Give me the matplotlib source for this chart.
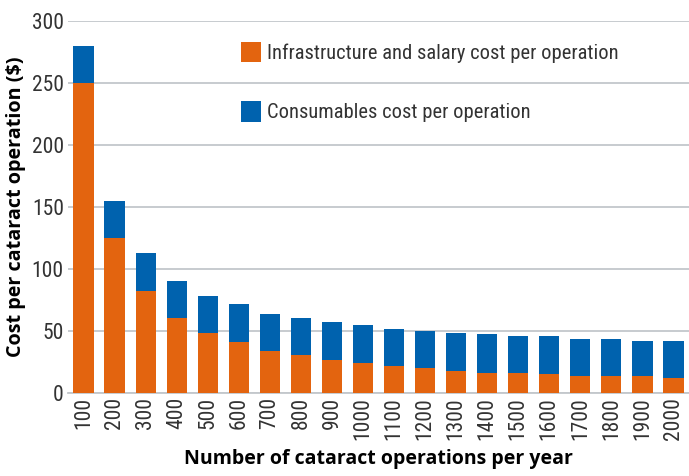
import numpy as np
import matplotlib.pyplot as plt

operations = [100, 200, 300, 400, 500, 600, 700, 800, 900, 1000,
              1100, 1200, 1300, 1400, 1500, 1600, 1700, 1800, 1900, 2000]
infrastructure = [250, 125, 82.5, 60.7, 48.6, 41.4, 34.1, 30.9, 26.9, 23.9,
                  22.0, 20.5, 18.0, 16.5, 16.5, 15.0, 13.3, 13.3, 13.3, 11.7]
total = [280, 155, 113.1, 90.6, 78.5, 72.0, 64.0, 60.8, 57.5, 54.6,
         52.0, 50.3, 48.0, 47.2, 45.6, 45.6, 43.2, 43.2, 41.6, 41.6]
consumables = [t - i for t, i in zip(total, infrastructure)]

orange = '#e3640f'
blue = '#0062ae'
grid = '#c3c7cb'
tick_font = ['DejaVu Sans Condensed', 'Roboto Condensed', 'Liberation Sans Narrow', 'Roboto']

fig = plt.figure(figsize=(6.89, 4.76), dpi=100)
ax = fig.add_axes([0.0987, 0.1744, 0.9013, 0.7815])

x = np.arange(len(operations))
ax.bar(x, infrastructure, width=0.65, color=orange, zorder=3,
       label='Infrastructure and salary cost per operation')
ax.bar(x, consumables, width=0.65, bottom=infrastructure, color=blue, zorder=3,
       label='Consumables cost per operation')

ax.set_xlim(-0.5, 19.5)
ax.set_ylim(0, 300)
ax.set_yticks(range(0, 301, 50))
ax.set_xticks(x)
ax.set_xticklabels([str(o) for o in operations], rotation=90,
                   family=tick_font, fontsize=15.5, color='#333333')
for lbl in ax.get_yticklabels():
    lbl.set_family(tick_font)
    lbl.set_fontsize(15.5)
    lbl.set_color('#333333')

ax.yaxis.grid(True, color=grid, linewidth=1.3, zorder=0)
for s in ['top', 'right', 'left']:
    ax.spines[s].set_visible(False)
ax.spines['bottom'].set_color(grid)
ax.spines['bottom'].set_linewidth(1.3)
ax.tick_params(length=0, pad=3)

ax.set_xlabel('Number of cataract operations per year', fontsize=14,
              fontweight='bold', family='Open Sans')
ax.xaxis.set_label_coords(0.5, -0.15)
ax.set_ylabel('Cost per cataract operation ($)', fontsize=14.2,
              fontweight='bold', family='Open Sans')
ax.yaxis.set_label_coords(-0.068, 0.5)

leg = ax.legend(loc='upper left', bbox_to_anchor=(0.249, 0.993), frameon=False,
                prop={'family': tick_font, 'size': 14.8}, labelspacing=1.85,
                handlelength=0.98, handleheight=1.15, handletextpad=0.3)
for t in leg.get_texts():
    t.set_color('#333333')

fig.savefig('out.png', dpi=100)
